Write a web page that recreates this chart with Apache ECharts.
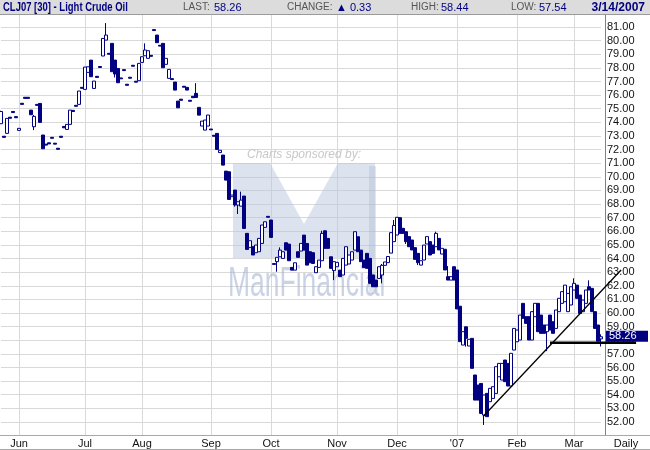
<!DOCTYPE html>
<html><head><meta charset="utf-8">
<script src="https://cdn.jsdelivr.net/npm/echarts@6/dist/echarts.min.js"></script>
<style>html,body{margin:0;padding:0;background:#fff}#c{width:650px;height:450px}</style>
</head><body><div id="c"></div>
<script>
// ---- DATA: daily candles [open, close, low?, high?] (low/high default to body) ----
const candlesJunSep = [
 [73.9,74.8,73.9,74.85],[72.98,72.9],[73.19,74.29],[74.38,74.3],[74.8,74.72],[74.42,74.34],[73.41,73.56],[75.4,75.32],[75.84,75.76],[75.84,75.76],
 [74.9,74.56],[73.68,74.44,73.43,74.54],[75.32,75.25],[75.39,74.0],[73.07,72.06],[72.4,72.33],[72.5,72.42],[72.9,72.83],[72.47,72.4],[72.1,72.02],
 [72.98,72.9],[73.7,73.6],[73.48,73.85],[73.85,74.9],[74.88,74.8],[75.25,75.18],[75.32,76.3],[76.57,76.5],[76.42,78.06],[77.67,78.08],
 [78.57,77.35],[76.49,77.03],[77.38,77.3],[78.1,78.03],[78.87,80.16],[80.04,80.41,80.04,81.29],[79.07,79.0],[79.8,77.72],[78.57,77.55,77.3,78.57],[77.96,76.91],
 [77.26,77.2],[77.87,77.8],[76.8,76.72],[77.31,77.24],[78.19,78.12],[77.02,76.95],[77.06,78.33],[78.4,78.82],[78.89,79.31,78.89,79.8],[78.7,79.26],
 [78.92,78.85],[80.81,80.74],[80.41,79.85],[79.66,79.6],[79.8,78.01],[78.26,78.7],[77.23,77.89],[77.21,77.14],[76.96,76.37],[75.56,75.07],
 [75.7,75.62],[76.65,76.58],[76.57,76.37],[75.62,75.55],[75.91,75.81],[76.13,75.83,75.83,76.88],[75.1,74.53],[73.73,74.09],[73.43,74.17],[73.73,74.54]
];
const candlesSepNov = [
 [73.51,73.45],[73.05,72.98],[73.19,72.01],[71.78,71.95],[71.6,70.86],[70.42,69.76],[70.37,68.34],[68.54,68.66],[69.03,67.93,67.81,69.03],[67.93,68.17,67.27,68.17],
 [67.85,68.29,67.85,68.91],[68.59,66.21],[65.85,64.67],[64.82,65.31],[64.87,64.26],[64.43,64.99],[64.5,65.48],[65.11,66.46],[66.29,66.7],[67.1,67.03],
 [66.83,65.55],[63.63,63.57],[63.77,64.09,63.03,64.09],[64.13,64.62,64.13,64.82],[64.01,64.5],[65.16,64.62],[65.06,63.84],[63.35,63.15],[63.15,63.69],[64.5,64.09],
 [64.55,65.11],[65.72,64.62],[65.11,63.52],[64.5,63.69],[64.43,63.64],[62.96,63.4],[63.35,63.89],[63.84,65.85,63.84,66.04],[66.04,64.75],[65.48,64.75],
 [64.13,63.28],[63.11,63.77,62.42,63.77],[63.4,63.72],[63.15,62.67],[62.79,64.01],[63.52,64.87],[63.6,64.26],[63.89,64.5],[64.62,65.97],[65.6,64.5],
 [64.62,63.77],[63.89,63.33],[64.38,63.28],[64.01,62.18],[62.79,61.93],[62.42,61.93],[62.54,63.4],[62.79,63.5,62.18,63.6],[63.5,63.75],[63.7,64.15],
 [64.4,65.9],[65.24,66.43,65.24,66.83]
];
const candlesDecMar = [
 [65.73,67.03],[67.0,65.85],[66.22,65.85],[65.97,65.24,65.07,65.97],[65.61,64.87],[65.36,64.63],[64.8,63.94],[64.38,63.7,63.52,64.38],
 [63.52,63.84],[63.89,64.99],[65.07,65.61],[65.24,64.26],[64.99,64.38],[64.87,65.85,64.87,65.97],[65.48,64.63],[64.33,64.75],[64.68,63.16],[62.67,62.42,62.42,63.45],
 [62.42,62.67],[63.4,62.42],[63.16,60.3],[60.5,57.9],[57.65,58.63],[58.99,58.14,57.53,58.99],[57.58,58.07],[58.14,55.94],[55.45,53.61],[54.71,53.61],
 [54.83,52.63],[52.51,53.98,51.78,53.98],[54.1,52.39],[53.49,54.47],[53.73,54.59],[54.1,56.06],[55.32,56.3],[55.08,56.3],[56.55,54.96],[56.3,54.64],
 [54.64,57.04],[57.28,58.87],[57.89,58.75],[58.02,59.85],[60.71,59.61],[59.73,59.24],[59.73,58.02],[58.02,60.1],[59.73,60.71],[60.71,58.63],
 [59.85,58.51],[59.12,58.51],[58.63,59.12,57.2,59.12],[59.85,58.75],[59.36,58.51],[58.87,60.22],[60.1,61.08],[60.71,61.57],[60.83,62.05],[60.1,61.44],
 [60.59,61.93],[61.69,62.18,61.69,62.55],[62.05,61.08],[61.32,59.97],[60.1,60.95],[60.71,61.69],[61.93,61.69,61.69,62.4],[61.81,60.1],[60.1,58.87],[59.12,57.93],
 [58.1,58.26,57.54,58.44]
];
// month boundaries (candle index) and tick labels
const monthStartIdx = [6, 28, 47, 70, 90, 112, 132, 152, 172, 191];
const monthLabels = ['Jun','Jul','Aug','Sep','Oct','Nov','Dec',"'07",'Feb','Mar'];
// header texts
const titleText = 'CLJ07 [30] - Light Crude Oil';
const statLabels = ['LAST:', 'CHANGE:', 'HIGH:', 'LOW:'];
const statValues = ['58.26', '\u25B2 0.33', '58.44', '57.54'];
const dateText = '3/14/2007';
const lastPrice = 58.26;
// trend lines in data coords [index, price]
const trendDiag = [[160.7, 52.40], [206.7, 63.16]];
const trendFlat = [[183, 57.82], [211.7, 57.82]];

// ---- build ----
const raw = candlesJunSep.concat(candlesSepNov, candlesDecMar);
const ohlc = raw.map(c => {
  const o = c[0], cl = c[1];
  const lo = c.length > 2 ? c[2] : Math.min(o, cl);
  const hi = c.length > 3 ? c[3] : Math.max(o, cl);
  return [o, cl, lo, hi];
});
const categories = ohlc.map((_, i) => String(i));
const labelAt = {};
monthStartIdx.forEach((idx, k) => { labelAt[idx] = monthLabels[k]; });
const NAVY = '#000080';
const FONT = '"Liberation Sans", Arial, sans-serif';

const chart = echarts.init(document.getElementById('c'), null, {renderer: 'canvas'});
chart.setOption({
  animation: false,
  backgroundColor: '#fff',
  grid: {left: 1, top: 13.4, width: 600, height: 422.2},
  xAxis: {
    type: 'category', data: categories, boundaryGap: false,
    axisLine: {show: false}, axisTick: {show: false},
    axisLabel: {
      interval: (i) => labelAt[i] !== undefined,
      formatter: (v, i) => labelAt[i] || '',
      color: '#111', fontSize: 11, fontFamily: FONT, margin: 3
    },
    splitLine: {show: true, interval: (i) => labelAt[i] !== undefined, lineStyle: {color: '#d9d9d9', width: 1}}
  },
  yAxis: {
    type: 'value', position: 'right', offset: 4, min: 51, max: 82, interval: 1,
    axisLine: {show: true, lineStyle: {color: '#808080'}}, axisTick: {show: false},
    axisLabel: {formatter: v => (v <= 51 || v >= 82) ? '' : v.toFixed(2), color: '#111', fontSize: 11, fontFamily: FONT, margin: 2},
    splitLine: {show: true, lineStyle: {color: '#d9d9d9', width: 1}}
  },
  series: [{
    type: 'candlestick', data: ohlc, barWidth: 3, z: 3,
    itemStyle: {color: '#fff', color0: NAVY, borderColor: NAVY, borderColor0: NAVY, borderWidth: 1}
  }]
});

// pixel helpers through the chart's own scales
const pA = chart.convertToPixel({gridIndex: 0}, [categories[0], 60]);
const pB = chart.convertToPixel({gridIndex: 0}, [categories[ohlc.length - 1], 60]);
const pxPerIdx = (pB[0] - pA[0]) / (ohlc.length - 1);
function px(i) { return pA[0] + i * pxPerIdx; }
function py(p) { return chart.convertToPixel({yAxisIndex: 0}, p); }

function txt(x, y, text, font, fill, align, extra) {
  return Object.assign({type: 'text', x: x, y: y, style: {text: text, font: font, fill: fill, align: align, verticalAlign: 'middle', textAlign: align, textVerticalAlign: 'middle'}}, extra || {});
}
const els = [];
// watermark
els.push({type: 'polygon', z: 1, shape: {points: [[233,163],[270,163],[304,224],[338,163],[375,163],[375,258],[233,258]]},
  style: {fill: 'rgba(185,198,222,0.5)'}});
els.push({type: 'rect', z: 1, shape: {x: 369, y: 166, width: 7, height: 128}, style: {fill: 'rgba(160,176,205,0.3)'}});
els.push(txt(247, 155, 'Charts sponsored by:', 'italic 12px ' + FONT, '#c8c8c8', 'left', {z: 1}));
els.push(txt(228, 284, 'ManFinancial', '42px ' + FONT, 'rgba(165,182,212,0.6)', 'left', {z: 1, scaleX: 0.63}));
// header
els.push({type: 'rect', z: 10, shape: {x: 0, y: 0, width: 650, height: 14}, style: {fill: '#dcdcdc'}});
els.push({type: 'line', z: 10, shape: {x1: 0, y1: 14.5, x2: 650, y2: 14.5}, style: {stroke: '#9a9a9a', lineWidth: 1}});
els.push(txt(3, 7.5, titleText, 'bold 12px ' + FONT, NAVY, 'left', {z: 11, scaleX: 0.79}));
const labX = [183, 287, 411, 511], valX = [214, 336, 441, 539];
statLabels.forEach((t, k) => {
  els.push(txt(labX[k], 7.5, t, '10px ' + FONT, '#555', 'left', {z: 11}));
  els.push(txt(valX[k], 7.5, statValues[k], '11px ' + FONT, NAVY, 'left', {z: 11}));
});
els.push(txt(645, 7.5, dateText, 'bold 12px ' + FONT, NAVY, 'right', {z: 11}));
// frame lines
els.push({type: 'line', z: 5, shape: {x1: 0, y1: 435.5, x2: 650, y2: 435.5}, style: {stroke: '#a8a8a8', lineWidth: 1}});
els.push({type: 'line', z: 5, shape: {x1: 0, y1: 449.5, x2: 650, y2: 449.5}, style: {stroke: '#a8a8a8', lineWidth: 1}});
els.push(txt(626, 444, 'Daily', '11px ' + FONT, '#111', 'center', {z: 5}));
// last price box
const ly = py(lastPrice);
els.push({type: 'rect', z: 6, shape: {x: 606, y: ly - 6, width: 42, height: 11}, style: {fill: NAVY}});
els.push(txt(609, ly - 0.5, lastPrice.toFixed(2), '11px ' + FONT, '#fff', 'left', {z: 7}));
// trend lines
els.push({type: 'line', z: 8, shape: {x1: px(trendDiag[0][0]), y1: py(trendDiag[0][1]), x2: px(trendDiag[1][0]), y2: py(trendDiag[1][1])}, style: {stroke: '#000', lineWidth: 1.3}});
els.push({type: 'line', z: 8, shape: {x1: px(trendFlat[0][0]), y1: py(trendFlat[0][1]), x2: px(trendFlat[1][0]), y2: py(trendFlat[1][1])}, style: {stroke: '#000', lineWidth: 2.5}});
chart.setOption({graphic: {elements: els}});
</script></body></html>
